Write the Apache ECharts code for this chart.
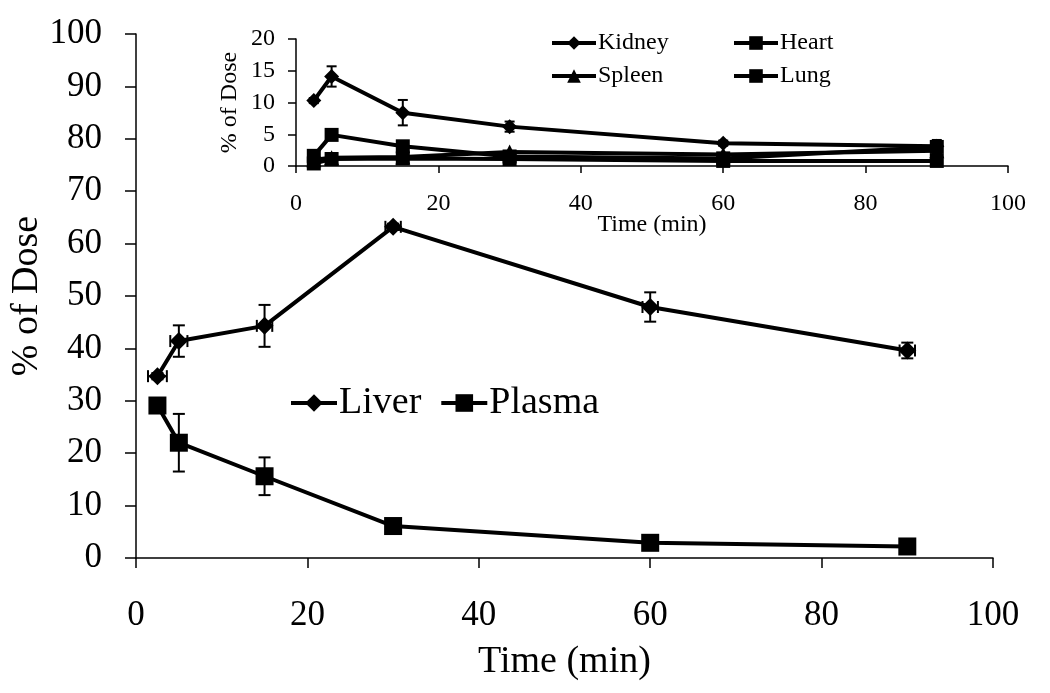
<!DOCTYPE html>
<html>
<head>
<meta charset="utf-8">
<script src="https://cdn.jsdelivr.net/npm/echarts@6/dist/echarts.min.js"></script>
<style>
  html, body { margin: 0; padding: 0; background: #fff; }
  #chart { width: 1050px; height: 693px; }
</style>
</head>
<body>
<div id="chart"></div>
<script>
// time points (min)
var times = [2.5, 5, 15, 30, 60, 90];

// main panel
var liver = [34.7, 41.4, 44.3, 63.2, 47.9, 39.6];
var liverSd = [0.6, 3.0, 4.0, 0.6, 2.8, 1.5];
var liverTimeSd = [1.1, 1.0, 0.9, 0.9, 0.9, 0.9];
var plasma = [29.1, 22.0, 15.6, 6.1, 2.9, 2.2];
var plasmaSd = [0.5, 5.5, 3.6, 0.8, 0.4, 0.5];

// inset panel
var kidney = [10.3, 14.1, 8.4, 6.2, 3.6, 3.1];
var kidneySd = [0.4, 1.6, 2.0, 0.8, 0.4, 1.0];
var heart = [1.6, 4.9, 3.1, 1.5, 1.2, 3.0];
var spleen = [1.0, 1.3, 1.4, 2.2, 1.8, 2.4];
var lung = [0.4, 1.1, 1.2, 1.1, 0.8, 0.8];

var FONT = '"Liberation Serif", "Times New Roman", serif';

function pts(ys) {
    return times.map(function (t, i) { return [t, ys[i]]; });
}
function errPts(ys, sd, xsd) {
    return times.map(function (t, i) { return [t, ys[i], xsd ? xsd[i] : 0, sd[i]]; });
}

// error bars drawn with the axis scales
function errRender(cap, lw) {
    return function (params, api) {
        var x = api.value(0), y = api.value(1), ex = api.value(2), ey = api.value(3);
        var st = { stroke: '#000', lineWidth: lw };
        var kids = [];
        if (ey > 0) {
            var hi = api.coord([x, y + ey]), lo = api.coord([x, y - ey]);
            kids.push({ type: 'line', shape: { x1: hi[0], y1: hi[1], x2: lo[0], y2: lo[1] }, style: st });
            kids.push({ type: 'line', shape: { x1: hi[0] - cap, y1: hi[1], x2: hi[0] + cap, y2: hi[1] }, style: st });
            kids.push({ type: 'line', shape: { x1: lo[0] - cap, y1: lo[1], x2: lo[0] + cap, y2: lo[1] }, style: st });
        }
        if (ex > 0) {
            var l = api.coord([x - ex, y]), r = api.coord([x + ex, y]);
            kids.push({ type: 'line', shape: { x1: l[0], y1: l[1], x2: r[0], y2: r[1] }, style: st });
            kids.push({ type: 'line', shape: { x1: l[0], y1: l[1] - cap, x2: l[0], y2: l[1] + cap }, style: st });
            kids.push({ type: 'line', shape: { x1: r[0], y1: r[1] - cap, x2: r[0], y2: r[1] + cap }, style: st });
        }
        return { type: 'group', children: kids };
    };
}

function lineSeries(name, data, sym, size, g, z) {
    return {
        name: name, type: 'line', data: pts(data),
        xAxisIndex: g, yAxisIndex: g,
        symbol: sym, symbolSize: size, showSymbol: true,
        lineStyle: { color: '#000', width: 4 },
        itemStyle: { color: '#000', borderWidth: 0 },
        z: z, animation: false, silent: true
    };
}

function errSeries(data, g, cap, z) {
    return {
        type: 'custom', xAxisIndex: g, yAxisIndex: g,
        renderItem: errRender(cap, 2), data: data,
        encode: { x: 0, y: 1 }, z: z, animation: false, silent: true
    };
}

function axisOf(g, min, max, step, fs, margin, tick, name, nfs, gap) {
    return {
        type: 'value', gridIndex: g, min: min, max: max, interval: step,
        axisLine: { show: true, lineStyle: { color: '#000', width: 1.5 } },
        axisTick: { show: true, length: tick, lineStyle: { color: '#000', width: 1.5 } },
        splitLine: { show: false },
        axisLabel: { fontSize: fs, fontFamily: FONT, color: '#000', margin: margin },
        name: name, nameLocation: 'middle', nameGap: gap, nameMoveOverlap: false,
        nameTextStyle: { fontSize: nfs, fontFamily: FONT, color: '#000' }
    };
}

var chart = echarts.init(document.getElementById('chart'), null, { renderer: 'canvas' });

var option = {
    backgroundColor: '#fff',
    animation: false,
    textStyle: { fontFamily: FONT, color: '#000' },
    grid: [
        { left: 136, right: 57, top: 34, bottom: 135, containLabel: false, outerBoundsMode: 'none' },
        { left: 296, right: 42, top: 39, bottom: 527, containLabel: false, outerBoundsMode: 'none' }
    ],
    xAxis: [
        axisOf(0, 0, 100, 20, 35, 40, 10, 'Time (min)', 38, 85),
        axisOf(1, 0, 100, 20, 24, 26, 7, 'Time (min)', 24, 47)
    ],
    yAxis: [
        axisOf(0, 0, 100, 10, 35, 34, 11, '% of Dose', 38, 90),
        axisOf(1, 0, 20, 5, 24, 21, 8, '% of Dose', 24, 54)
    ],
    legend: [
        {
            data: ['Liver', 'Plasma'], left: 289, top: 384, orient: 'horizontal', padding: 0,
            itemWidth: 46, itemHeight: 22, itemGap: 18,
            lineStyle: { width: 4 },
            textStyle: { fontSize: 38, fontFamily: FONT, color: '#000', padding: [0, 0, 0, -3] }
        },
        {
            data: ['Kidney', 'Spleen'], left: 550, top: 31, orient: 'vertical', padding: 0,
            itemWidth: 44, itemHeight: 17, itemGap: 9,
            lineStyle: { width: 4 },
            textStyle: { fontSize: 24, fontFamily: FONT, color: '#000', padding: [0, 0, 0, -3] }
        },
        {
            data: ['Heart', 'Lung'], left: 732, top: 31, orient: 'vertical', padding: 0,
            itemWidth: 44, itemHeight: 17, itemGap: 9,
            lineStyle: { width: 4 },
            textStyle: { fontSize: 24, fontFamily: FONT, color: '#000', padding: [0, 0, 0, -3] }
        }
    ],
    series: [
        errSeries(errPts(liver, liverSd, liverTimeSd), 0, 6, 3),
        errSeries(errPts(plasma, plasmaSd, null), 0, 6, 3),
        lineSeries('Liver', liver, 'diamond', 18, 0, 4),
        lineSeries('Plasma', plasma, 'rect', 18, 0, 4),

        errSeries(errPts(kidney, kidneySd, null), 1, 5, 5),
        lineSeries('Lung', lung, 'rect', 14, 1, 6),
        lineSeries('Spleen', spleen, 'triangle', 15, 1, 6),
        lineSeries('Heart', heart, 'rect', 14, 1, 6),
        lineSeries('Kidney', kidney, 'diamond', 15, 1, 6)
    ]
};

chart.setOption(option);
</script>
</body>
</html>
